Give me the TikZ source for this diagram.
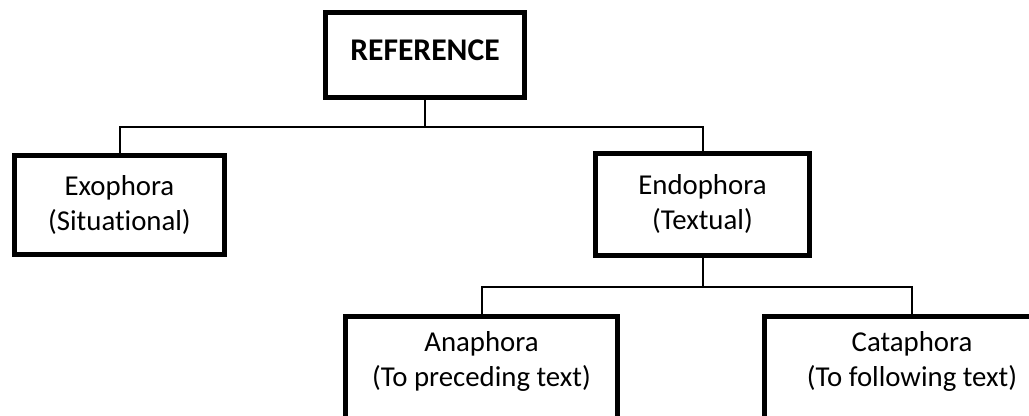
\documentclass[tikz,border=0pt]{standalone}
\usepackage{fontspec}
\setmainfont[Ligatures=NoCommon]{Carlito}
\usetikzlibrary{calc}

\begin{document}
\begin{tikzpicture}[x=0.5pt, y=-0.5pt,
  block/.style={draw, line width=2.5pt, align=center, inner sep=0pt, font=\fontsize{14.4}{17.5}\selectfont},
  link/.style={line width=1pt}]

  \useasboundingbox (0,0) rectangle (1029,416);

  % Top
  \node[block, minimum width=99.5pt, minimum height=42.5pt, text depth=5pt, font=\fontsize{15.8}{19}\selectfont\bfseries] (ref) at (425,55) {REFERENCE};

  % Second row
  \node[block, minimum width=105pt, minimum height=49.5pt] (exo) at (119.5,205) {Exophora\\(Situational)};
  \node[block, minimum width=107pt, minimum height=51pt] (endo) at (702.5,204.5) {Endophora\\(Textual)};

  % Third row
  \node[block, minimum width=136pt, minimum height=53pt, text depth=10.5pt, anchor=north] (ana) at (481.5,314.5) {Anaphora\\(To preceding text)};
  \node[block, minimum width=148pt, minimum height=53pt, text depth=10.5pt, anchor=north] (cata) at (912,314.5) {Cataphora\\(To following text)};

  % Bus points
  \coordinate (busA) at (425,127);
  \coordinate (busB) at (702.5,287);

  % Connectors
  \draw[link] (ref.south) -- (busA);
  \draw[link] (exo.north) |- (busA) -| (endo.north);
  \draw[link] (endo.south) -- (busB);
  \draw[link] (ana.north) |- (busB) -| (cata.north);

\end{tikzpicture}
\end{document}
